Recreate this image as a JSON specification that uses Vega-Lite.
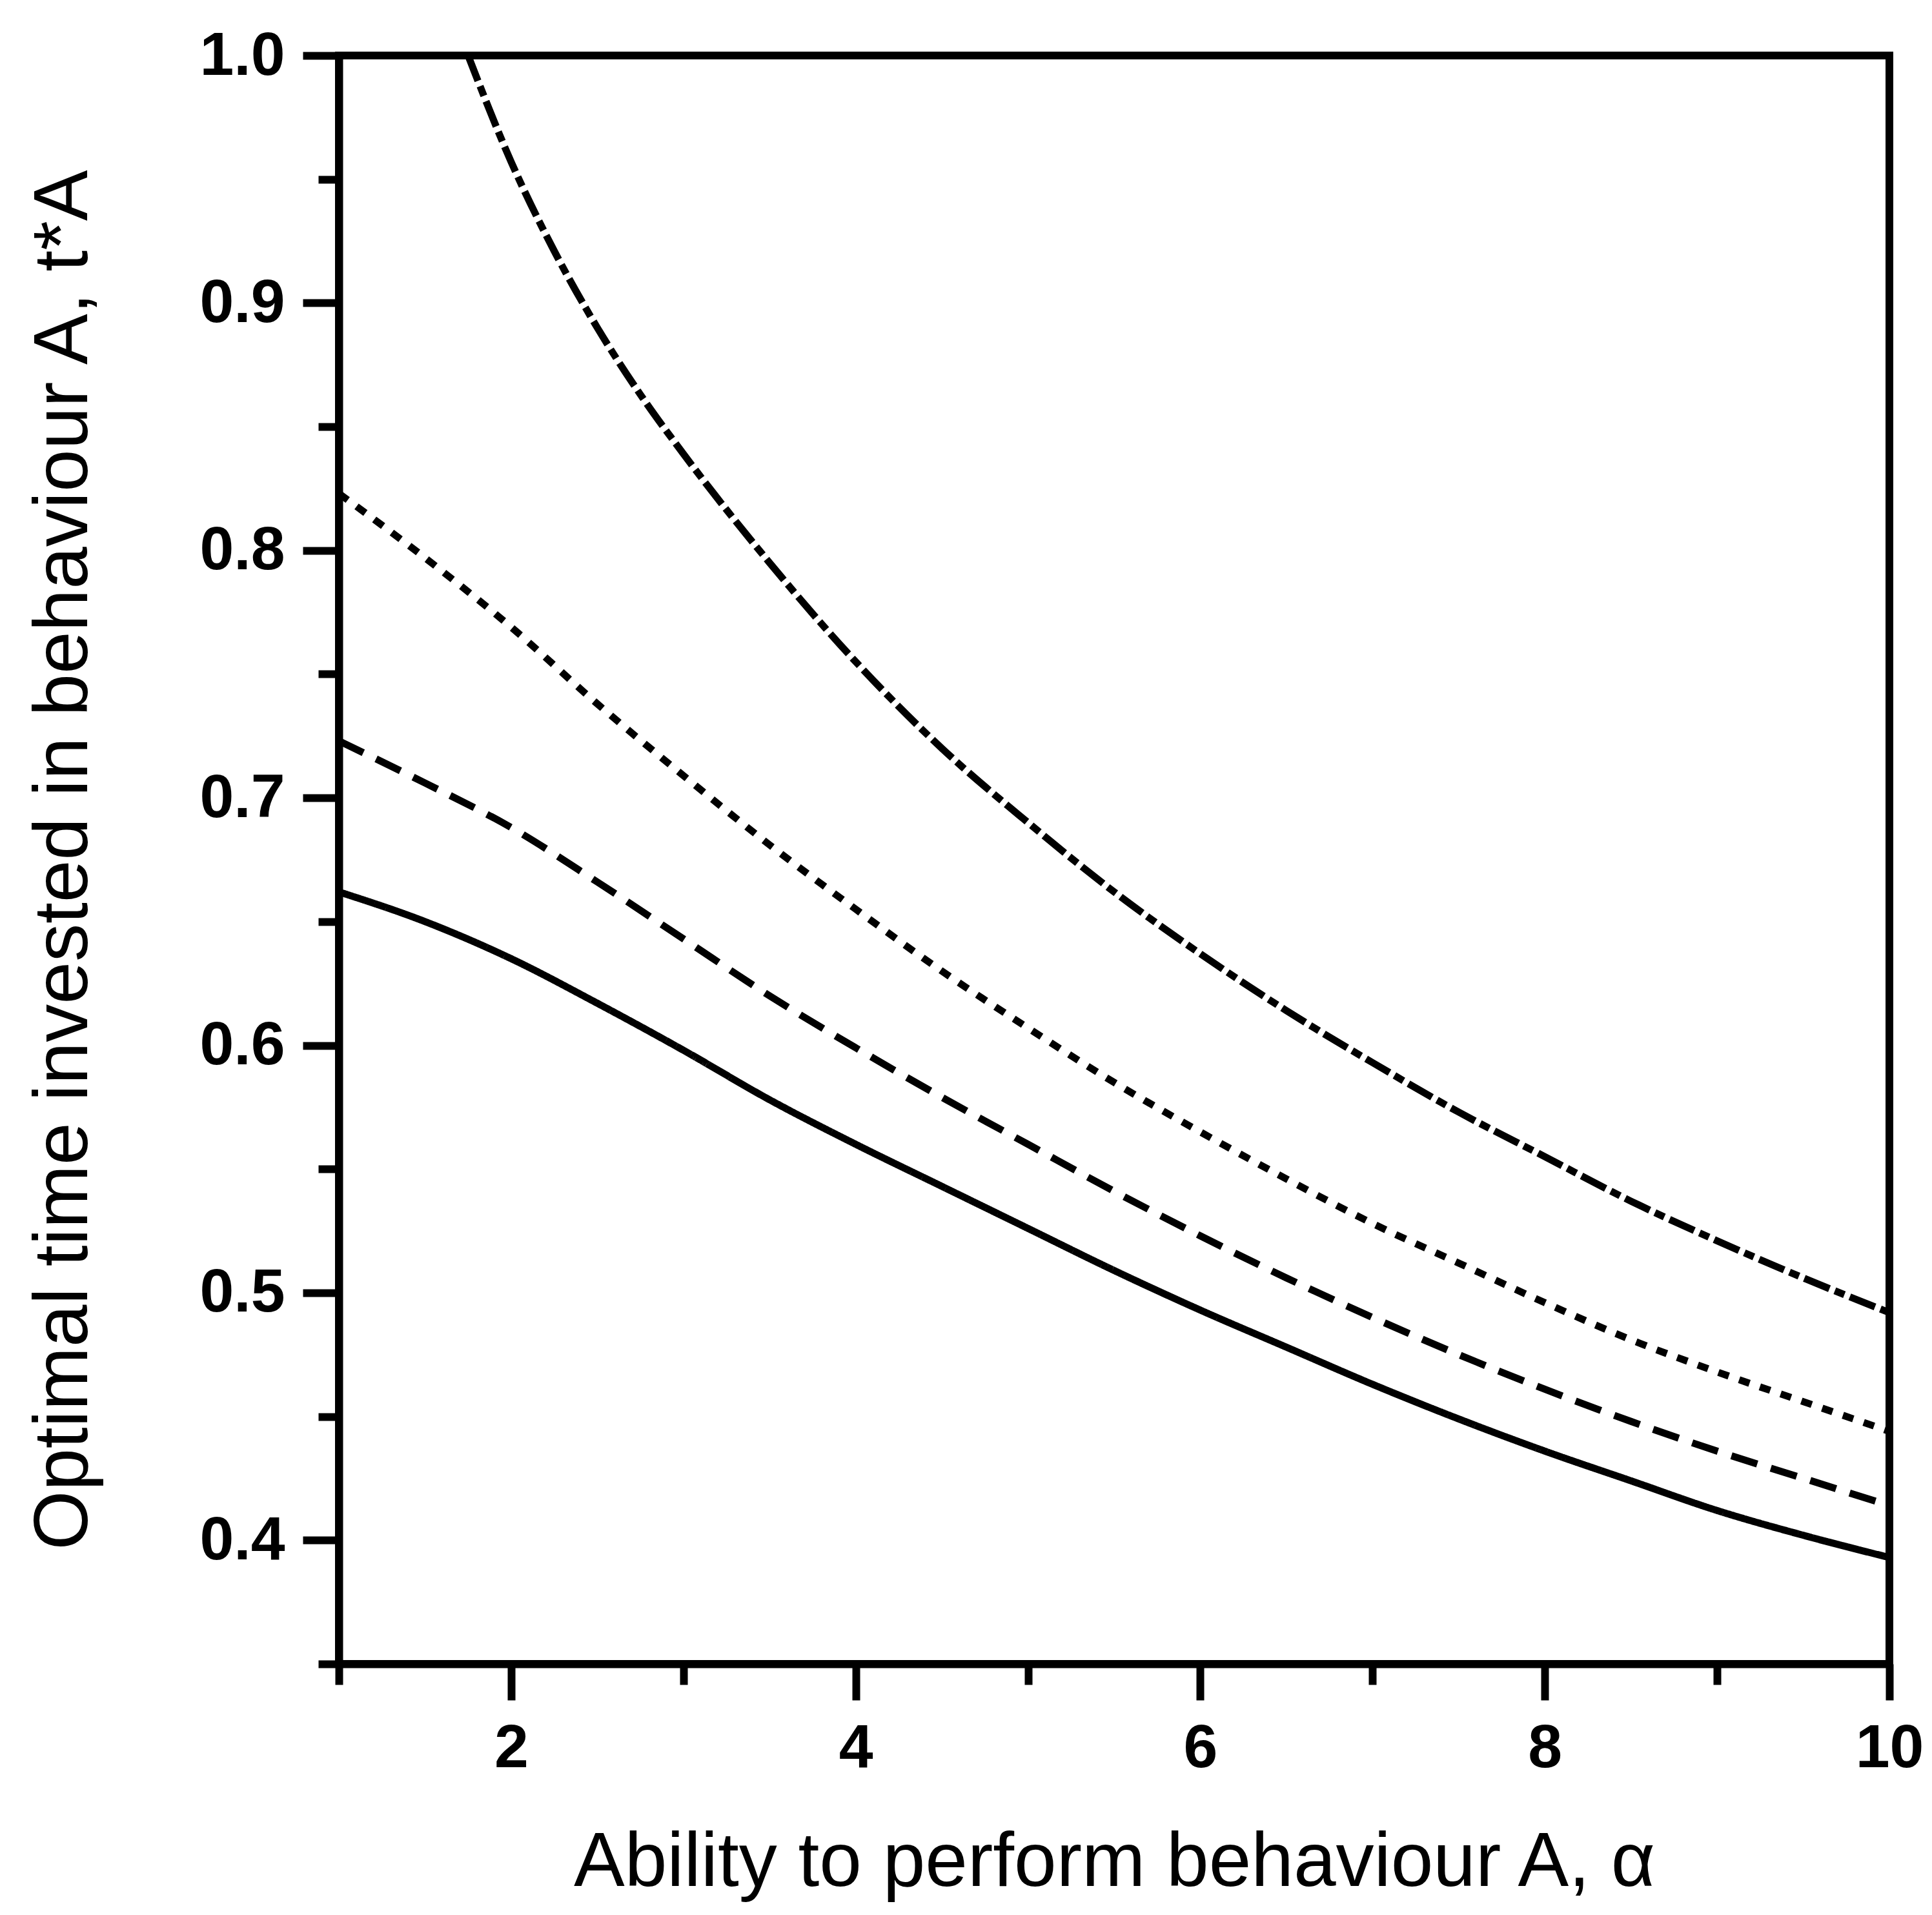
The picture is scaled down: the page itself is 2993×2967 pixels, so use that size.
{
  "$schema": "https://vega.github.io/schema/vega-lite/v6.json",
  "width": 2402,
  "height": 2492,
  "autosize": {"type": "none"},
  "padding": {"left": 525, "top": 86, "right": 66, "bottom": 389},
  "background": "white",
  "config": {
    "view": {"stroke": "black", "strokeWidth": 12},
    "axis": {
      "grid": false,
      "domainColor": "black",
      "domainWidth": 12,
      "tickColor": "black",
      "tickWidth": 12,
      "labelColor": "black",
      "labelFont": "Liberation Sans",
      "labelFontSize": 95,
      "labelFontWeight": "bold",
      "labelFlush": false,
      "titleColor": "black",
      "titleFont": "Liberation Sans",
      "titleFontSize": 118,
      "titleFontWeight": "normal"
    }
  },
  "data": {
    "values": [
      {"a": 1, "t": 0.662, "s": "solid"},
      {"a": 1.5, "t": 0.650, "s": "solid"},
      {"a": 2, "t": 0.635, "s": "solid"},
      {"a": 2.5, "t": 0.617, "s": "solid"},
      {"a": 3, "t": 0.598, "s": "solid"},
      {"a": 3.5, "t": 0.578, "s": "solid"},
      {"a": 4, "t": 0.560, "s": "solid"},
      {"a": 4.5, "t": 0.543, "s": "solid"},
      {"a": 5, "t": 0.526, "s": "solid"},
      {"a": 5.5, "t": 0.509, "s": "solid"},
      {"a": 6, "t": 0.493, "s": "solid"},
      {"a": 6.5, "t": 0.478, "s": "solid"},
      {"a": 7, "t": 0.463, "s": "solid"},
      {"a": 7.5, "t": 0.449, "s": "solid"},
      {"a": 8, "t": 0.436, "s": "solid"},
      {"a": 8.5, "t": 0.424, "s": "solid"},
      {"a": 9, "t": 0.412, "s": "solid"},
      {"a": 9.5, "t": 0.402, "s": "solid"},
      {"a": 10, "t": 0.393, "s": "solid"},
      {"a": 1, "t": 0.723, "s": "dashed"},
      {"a": 1.5, "t": 0.706, "s": "dashed"},
      {"a": 2, "t": 0.688, "s": "dashed"},
      {"a": 2.5, "t": 0.666, "s": "dashed"},
      {"a": 3, "t": 0.643, "s": "dashed"},
      {"a": 3.5, "t": 0.620, "s": "dashed"},
      {"a": 4, "t": 0.599, "s": "dashed"},
      {"a": 4.5, "t": 0.579, "s": "dashed"},
      {"a": 5, "t": 0.560, "s": "dashed"},
      {"a": 5.5, "t": 0.541, "s": "dashed"},
      {"a": 6, "t": 0.523, "s": "dashed"},
      {"a": 6.5, "t": 0.506, "s": "dashed"},
      {"a": 7, "t": 0.490, "s": "dashed"},
      {"a": 7.5, "t": 0.475, "s": "dashed"},
      {"a": 8, "t": 0.461, "s": "dashed"},
      {"a": 8.5, "t": 0.448, "s": "dashed"},
      {"a": 9, "t": 0.436, "s": "dashed"},
      {"a": 9.5, "t": 0.425, "s": "dashed"},
      {"a": 10, "t": 0.414, "s": "dashed"},
      {"a": 1, "t": 0.823, "s": "dotted"},
      {"a": 1.5, "t": 0.797, "s": "dotted"},
      {"a": 2, "t": 0.769, "s": "dotted"},
      {"a": 2.5, "t": 0.738, "s": "dotted"},
      {"a": 3, "t": 0.709, "s": "dotted"},
      {"a": 3.5, "t": 0.681, "s": "dotted"},
      {"a": 4, "t": 0.655, "s": "dotted"},
      {"a": 4.5, "t": 0.630, "s": "dotted"},
      {"a": 5, "t": 0.607, "s": "dotted"},
      {"a": 5.5, "t": 0.585, "s": "dotted"},
      {"a": 6, "t": 0.565, "s": "dotted"},
      {"a": 6.5, "t": 0.546, "s": "dotted"},
      {"a": 7, "t": 0.528, "s": "dotted"},
      {"a": 7.5, "t": 0.512, "s": "dotted"},
      {"a": 8, "t": 0.496, "s": "dotted"},
      {"a": 8.5, "t": 0.481, "s": "dotted"},
      {"a": 9, "t": 0.468, "s": "dotted"},
      {"a": 9.5, "t": 0.456, "s": "dotted"},
      {"a": 10, "t": 0.444, "s": "dotted"},
      {"a": 1.75, "t": 1.0, "s": "dashdot"},
      {"a": 2, "t": 0.957, "s": "dashdot"},
      {"a": 2.25, "t": 0.921, "s": "dashdot"},
      {"a": 2.5, "t": 0.890, "s": "dashdot"},
      {"a": 2.75, "t": 0.863, "s": "dashdot"},
      {"a": 3, "t": 0.839, "s": "dashdot"},
      {"a": 3.5, "t": 0.795, "s": "dashdot"},
      {"a": 4, "t": 0.755, "s": "dashdot"},
      {"a": 4.5, "t": 0.720, "s": "dashdot"},
      {"a": 5, "t": 0.690, "s": "dashdot"},
      {"a": 5.5, "t": 0.662, "s": "dashdot"},
      {"a": 6, "t": 0.637, "s": "dashdot"},
      {"a": 6.5, "t": 0.614, "s": "dashdot"},
      {"a": 7, "t": 0.593, "s": "dashdot"},
      {"a": 7.5, "t": 0.573, "s": "dashdot"},
      {"a": 8, "t": 0.555, "s": "dashdot"},
      {"a": 8.5, "t": 0.537, "s": "dashdot"},
      {"a": 9, "t": 0.521, "s": "dashdot"},
      {"a": 9.5, "t": 0.506, "s": "dashdot"},
      {"a": 10, "t": 0.492, "s": "dashdot"}
    ]
  },
  "layer": [
    {
      "mark": {"type": "line", "color": "black", "strokeWidth": 11, "interpolate": "monotone", "clip": true},
      "encoding": {
        "x": {
          "field": "a",
          "type": "quantitative",
          "scale": {"domain": [1, 10], "nice": false, "zero": false},
          "axis": {
            "orient": "bottom",
            "values": [2, 4, 6, 8, 10],
            "format": "d",
            "tickSize": 56,
            "labelPadding": 28,
            "title": "Ability to perform behaviour A, α",
            "titlePadding": 72
          }
        },
        "y": {
          "field": "t",
          "type": "quantitative",
          "scale": {"domain": [0.35, 1.0], "nice": false, "zero": false},
          "axis": {
            "orient": "left",
            "values": [0.4, 0.5, 0.6, 0.7, 0.8, 0.9, 1.0],
            "format": ".1f",
            "tickSize": 56,
            "labelPadding": 28,
            "title": "Optimal time invested in behaviour A, t*A",
            "titlePadding": 166
          }
        },
        "strokeDash": {
          "field": "s",
          "type": "nominal",
          "scale": {
            "domain": ["solid", "dashed", "dotted", "dashdot"],
            "range": [[1, 0], [42, 22], [17, 17], [42, 9, 16, 9]]
          },
          "legend": null
        }
      }
    },
    {
      "mark": {"type": "point", "opacity": 0},
      "encoding": {
        "x": {
          "field": "a",
          "type": "quantitative",
          "axis": {
            "orient": "bottom",
            "values": [1, 3, 5, 7, 9],
            "labels": false,
            "domain": false,
            "tickSize": 32,
            "title": null
          }
        },
        "y": {
          "field": "t",
          "type": "quantitative",
          "axis": {
            "orient": "left",
            "values": [0.35, 0.45, 0.55, 0.65, 0.75, 0.85, 0.95],
            "labels": false,
            "domain": false,
            "tickSize": 32,
            "title": null
          }
        }
      }
    }
  ],
  "resolve": {"axis": {"x": "independent", "y": "independent"}}
}
